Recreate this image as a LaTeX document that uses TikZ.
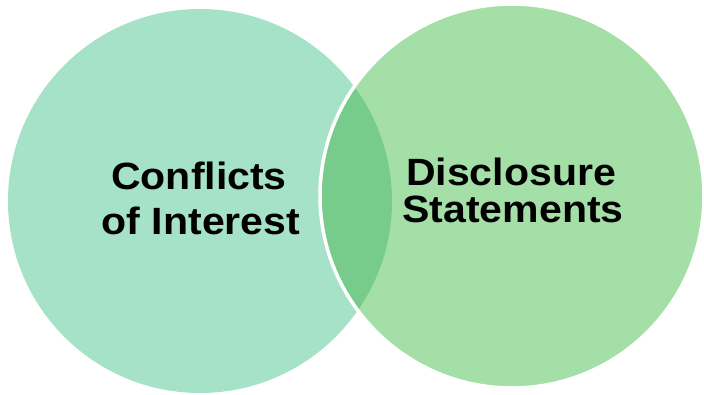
\documentclass[tikz,border=0pt]{standalone}
\usepackage{fontspec}
\setsansfont[FakeStretch=1.08]{Liberation Sans}
\definecolor{coimint}{RGB}{166,226,200}
\definecolor{dsgreen}{RGB}{164,223,168}
\definecolor{lensgreen}{RGB}{119,204,140}

\begin{document}
\begin{tikzpicture}[x=1pt,y=-1pt]
  \tikzstyle{set}=[circle,draw=none,inner sep=0pt,minimum size=384pt]
  \tikzstyle{word}=[font=\fontsize{38}{45}\selectfont\sffamily\bfseries,text=black,inner sep=0pt,anchor=base]

  \useasboundingbox (0,0) rectangle (704,394);

  % the two sets
  \node[set,fill=coimint] (coi) at (200,201) {};
  \node[set,fill=dsgreen] (ds)  at (512,196) {};

  % overlap
  \begin{scope}
    \clip (coi.center) circle (192pt);
    \fill[lensgreen] (ds.center) circle (192pt);
  \end{scope}
  \draw[white,line width=3.5pt] (ds.center) circle (192pt);

  % labels
  \node[word] (coi1) at (199,189) {Conflicts};
  \node[word] (coi2) at (201,234) {of Interest};
  \node[word] (ds1)  at (511,185) {Disclosure};
  \node[word] (ds2)  at (513,222) {Statements};
\end{tikzpicture}
\end{document}
